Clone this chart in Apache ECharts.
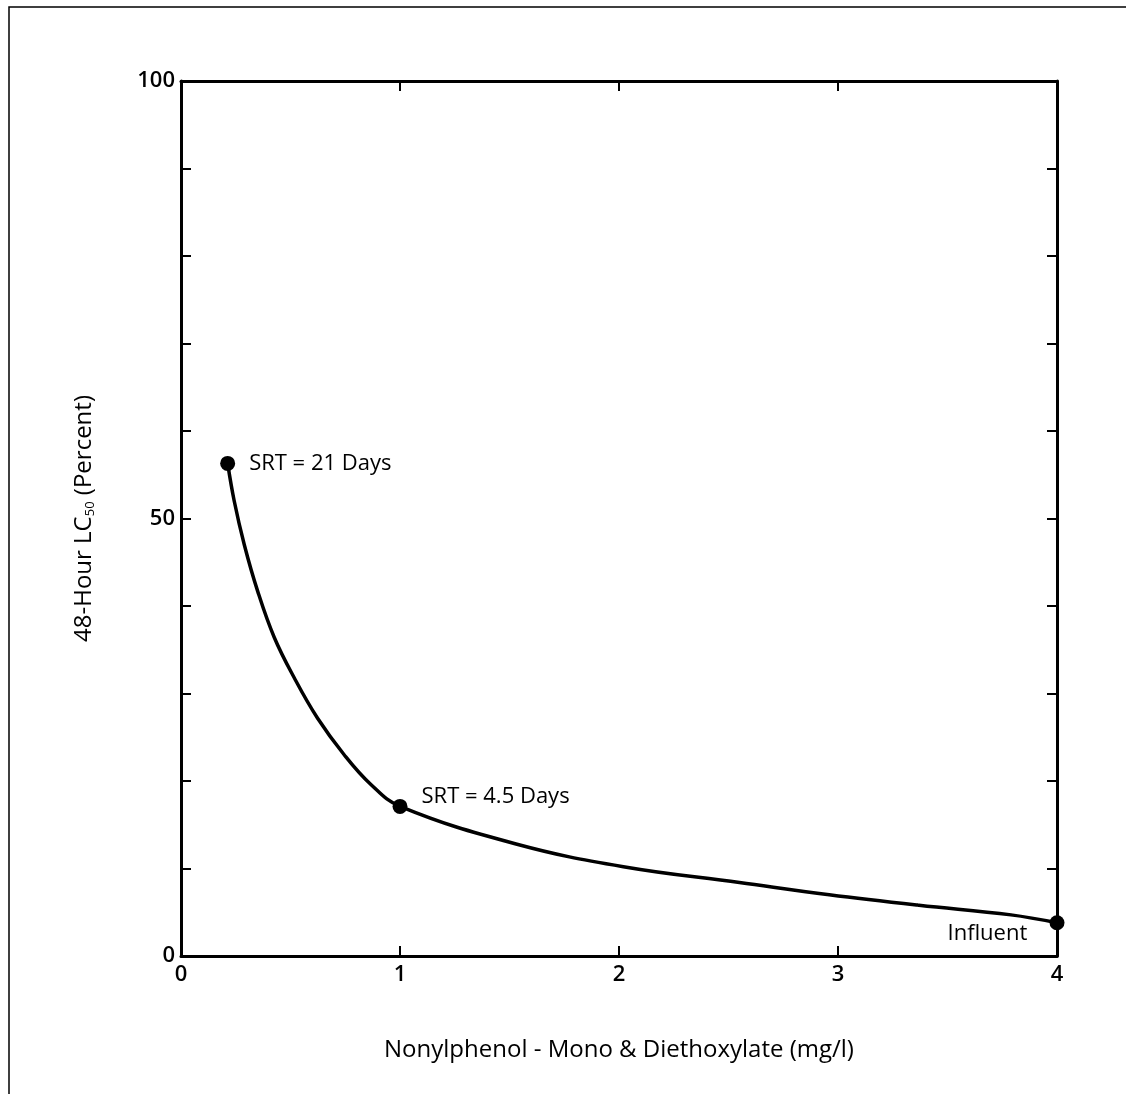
<!DOCTYPE html>
<html>
<head>
<meta charset="utf-8">
<script src="https://cdn.jsdelivr.net/npm/echarts@6/dist/echarts.min.js"></script>
<style>
  html, body { margin: 0; padding: 0; background: #fff; }
  #chart { width: 1126px; height: 1094px; }
</style>
</head>
<body>
<div id="chart"></div>
<script>
// curve
var curveX = [0.213, 0.243, 0.289, 0.35, 0.426, 0.517, 0.623, 0.745, 0.867, 1.0, 1.53, 2.02, 2.55, 2.96, 3.37, 3.79, 4.0];
var curveY = [56.3, 52.0, 47.0, 41.7, 36.4, 31.8, 27.2, 23.0, 19.6, 17.1, 12.8, 10.2, 8.4, 7.0, 5.8, 4.7, 3.8];

// labelled points
var pointNames = ['SRT = 21 Days', 'SRT = 4.5 Days', 'Influent'];
var pointX = [0.213, 1.0, 4.0];
var pointY = [56.3, 17.1, 3.8];

var yLabels = [0, 50, 100];

var font = 'Open Sans';
var ink = '#000';

var curveData = [], pointData = [];
for (var i = 0; i < curveX.length; i++) curveData.push([curveX[i], curveY[i]]);
for (var j = 0; j < pointX.length; j++) pointData.push({ name: pointNames[j], value: [pointX[j], pointY[j]] });

var myChart = echarts.init(document.getElementById('chart'), null, { renderer: 'canvas' });

var axisLine = { show: true, onZero: false, lineStyle: { color: ink, width: 3 } };
var tickIn = { show: true, inside: true, length: 10, lineStyle: { color: ink, width: 2 } };

var option = {
  backgroundColor: '#fff',
  animation: false,
  grid: { left: 181, right: 69, top: 81, bottom: 138 },
  xAxis: [
    {
      type: 'value', min: 0, max: 4, interval: 1,
      axisLine: axisLine,
      axisTick: tickIn,
      splitLine: { show: false },
      axisLabel: { color: ink, fontFamily: font, fontSize: 22, fontWeight: 600, margin: 8 },
      name: 'Nonylphenol - Mono & Diethoxylate (mg/l)',
      nameLocation: 'middle', nameGap: 82,
      nameTextStyle: { color: ink, fontFamily: font, fontSize: 24, fontWeight: 500 }
    },
    {
      type: 'value', position: 'top', min: 0, max: 4, interval: 1,
      axisLine: axisLine, axisTick: tickIn,
      axisLabel: { show: false }, splitLine: { show: false }
    }
  ],
  yAxis: [
    {
      type: 'value', min: 0, max: 100, interval: 10,
      axisLine: axisLine,
      axisTick: tickIn,
      splitLine: { show: false },
      axisLabel: {
        color: ink, fontFamily: font, fontSize: 22, fontWeight: 600, margin: 6,
        formatter: function (v) { return yLabels.indexOf(v) >= 0 ? String(v) : ''; }
      },
      name: '{a|48-Hour LC}{s|50}{a| (Percent)}',
      nameLocation: 'middle', nameGap: 84, nameRotate: 90,
      nameTextStyle: {
        rich: {
          a: { color: ink, fontFamily: font, fontSize: 24, fontWeight: 500 },
          s: { color: ink, fontFamily: font, fontSize: 13, fontWeight: 500, padding: [12, 0, 0, 0] }
        }
      }
    },
    {
      type: 'value', position: 'right', min: 0, max: 100, interval: 10,
      axisLine: axisLine, axisTick: tickIn,
      axisLabel: { show: false }, splitLine: { show: false }
    }
  ],
  graphic: [
    {
      type: 'polyline',
      shape: { points: [[9, 1094], [9, 7], [1126, 7]] },
      style: { stroke: ink, lineWidth: 1.5, fill: null }
    }
  ],
  series: [
    {
      type: 'line',
      data: curveData,
      smooth: 0.4,
      showSymbol: false,
      lineStyle: { color: ink, width: 3.5 },
      z: 3
    },
    {
      type: 'scatter',
      data: pointData,
      symbolSize: 15,
      itemStyle: { color: ink, opacity: 1 },
      clip: false,
      z: 4,
      label: {
        show: true,
        formatter: '{b}',
        color: ink, fontFamily: font, fontSize: 22, fontWeight: 500,
        position: 'right', distance: 14
      },
      labelLayout: function (params) {
        if (params.dataIndex === 1) return { dy: -10 };
        if (params.dataIndex === 2) return { x: params.rect.x - 102, dy: 0 };
        return {};
      }
    }
  ]
};

myChart.setOption(option);
</script>
</body>
</html>
